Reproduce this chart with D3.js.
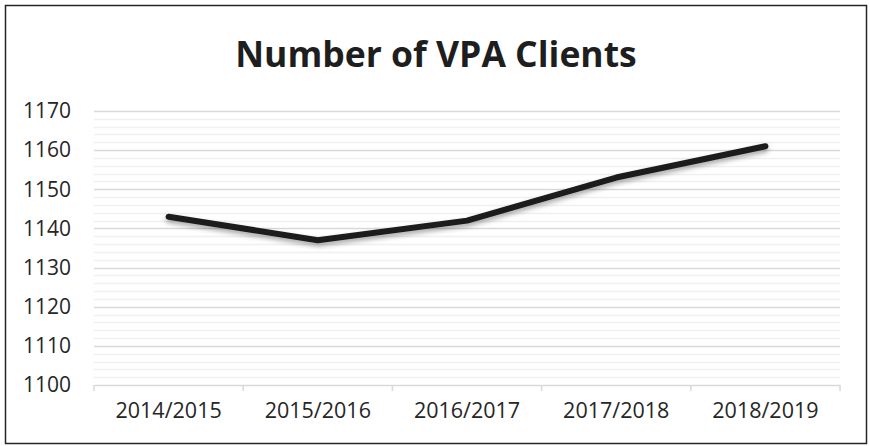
<!DOCTYPE html>
<html>
<head>
<meta charset="utf-8">
<script src="https://cdn.jsdelivr.net/npm/d3@7"></script>
<style>
  body { margin: 0; background: #fff; }
  text { font-family: "Open Sans", "Noto Sans", sans-serif; }
</style>
</head>
<body>
<script>
// Chart data
var years = ["2014/2015", "2015/2016", "2016/2017", "2017/2018", "2018/2019"];
var clients = [1143, 1137, 1142, 1153, 1161];
var yTicks = [1100, 1110, 1120, 1130, 1140, 1150, 1160, 1170];
var minorTicks = d3.range(1100, 1171, 2);

var svgWidth = 870;
var svgHeight = 446;

var margin = { top: 111, right: 30, bottom: 61, left: 94 };
var chartWidth = 840 - margin.left;
var chartHeight = 385 - margin.top;

var svg = d3.select("body")
  .append("svg")
  .attr("width", svgWidth)
  .attr("height", svgHeight);

// shadow under the line
var defs = svg.append("defs");
defs.append("filter")
  .attr("id", "shadow")
  .attr("x", "-10%").attr("y", "-50%")
  .attr("width", "120%").attr("height", "200%")
  .append("feDropShadow")
  .attr("dx", 0).attr("dy", 3)
  .attr("stdDeviation", 2.5)
  .attr("flood-color", "#000")
  .attr("flood-opacity", 0.35);

// outer frame
svg.append("rect")
  .attr("x", 5.5).attr("y", 5.5)
  .attr("width", 861).attr("height", 438)
  .attr("fill", "#fff")
  .attr("stroke", "#262626")
  .attr("stroke-width", 1.5);

svg.append("text")
  .attr("x", 436)
  .attr("y", 67)
  .attr("text-anchor", "middle")
  .attr("font-size", 35.5)
  .attr("font-weight", "bold")
  .attr("fill", "#1e1e1e")
  .text("Number of VPA Clients");

var chartGroup = svg.append("g")
  .attr("transform", `translate(${margin.left}, ${margin.top})`);

var xBandScale = d3.scaleBand()
  .domain(years)
  .range([0, chartWidth]);

var yLinearScale = d3.scaleLinear()
  .domain([1100, 1170])
  .range([chartHeight, 0]);

// minor gridlines
chartGroup.append("g")
  .selectAll("line")
  .data(minorTicks.filter(d => d % 10 !== 0))
  .enter()
  .append("line")
  .attr("x1", 0).attr("x2", chartWidth)
  .attr("y1", d => Math.round(yLinearScale(d)) + 0.5)
  .attr("y2", d => Math.round(yLinearScale(d)) + 0.5)
  .attr("stroke", "#f0f0f0")
  .attr("stroke-width", 1.5);

// major gridlines
chartGroup.append("g")
  .selectAll("line")
  .data(yTicks.filter(d => d !== 1100))
  .enter()
  .append("line")
  .attr("x1", 0).attr("x2", chartWidth)
  .attr("y1", d => Math.round(yLinearScale(d)) + 0.5)
  .attr("y2", d => Math.round(yLinearScale(d)) + 0.5)
  .attr("stroke", "#d9d9d9")
  .attr("stroke-width", 1.5);

// y axis labels
var leftAxis = d3.axisLeft(yLinearScale)
  .tickValues(yTicks)
  .tickSize(0)
  .tickPadding(23)
  .tickFormat(d3.format("d"));

var yAxis = chartGroup.append("g").call(leftAxis);
yAxis.select(".domain").remove();
yAxis.selectAll("text")
  .attr("font-size", 21)
  .attr("fill", "#262626")
  .style("font-family", "'Open Sans', sans-serif");

// x axis
var bottomAxis = d3.axisBottom(xBandScale)
  .tickSize(0)
  .tickPadding(18);

var xAxis = chartGroup.append("g")
  .attr("transform", `translate(0, ${chartHeight})`)
  .call(bottomAxis);
xAxis.select(".domain").attr("stroke", "#d9d9d9").attr("stroke-width", 1.5);
xAxis.selectAll("text")
  .attr("font-size", 21.5)
  .attr("fill", "#262626")
  .style("font-family", "'Open Sans', sans-serif");

// category boundary tick marks
xAxis.append("g")
  .selectAll("line")
  .data(years.map(d => xBandScale(d)).concat([chartWidth]))
  .enter()
  .append("line")
  .attr("x1", d => d).attr("x2", d => d)
  .attr("y1", 0).attr("y2", 6)
  .attr("stroke", "#d9d9d9")
  .attr("stroke-width", 1.5);

// the line
var drawLine = d3.line()
  .x((d, i) => xBandScale(years[i]) + xBandScale.bandwidth() / 2)
  .y(d => yLinearScale(d));

chartGroup.append("path")
  .attr("d", drawLine(clients))
  .attr("fill", "none")
  .attr("stroke", "#1c1a1b")
  .attr("stroke-width", 6)
  .attr("stroke-linecap", "round")
  .attr("stroke-linejoin", "round")
  .attr("filter", "url(#shadow)");
</script>
</body>
</html>
